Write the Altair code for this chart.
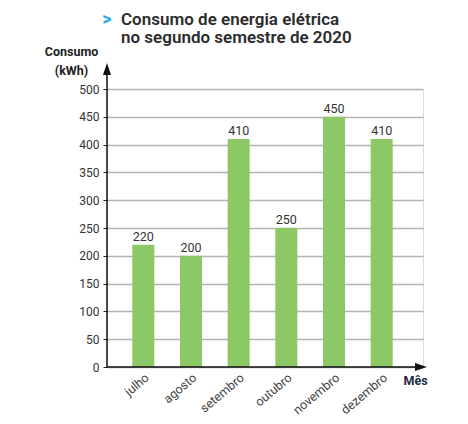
import altair as alt
import pandas as pd

meses = ["julho", "agosto", "setembro", "outubro", "novembro", "dezembro"]
consumo = [220, 200, 410, 250, 450, 410]
y_ticks = [0, 50, 100, 150, 200, 250, 300, 350, 400, 450, 500]
titulo = ["Consumo de energia elétrica", "no segundo semestre de 2020"]

df = pd.DataFrame({"mes": meses, "consumo": consumo})

W, H = 316, 278
FONT = "Roboto"

x_enc = alt.X(
    "mes:N",
    sort=meses,
    scale=alt.Scale(paddingInner=0.538, paddingOuter=0.583, align=0.455),
    axis=alt.Axis(
        title="Mês",
        titleAngle=0,
        titleX=308,
        titleY=17,
        titleAlign="center",
        titleBaseline="alphabetic",
        titleFont=FONT,
        titleFontSize=12.5,
        titleFontWeight="bold",
        titleColor="#1f2a44",
        labelAngle=-40,
        labelAlign="right",
        labelBaseline="top",
        labelPadding=4,
        labelFont=FONT,
        labelFontSize=12.5,
        labelColor="#444444",
        ticks=False,
        domain=False,
        grid=False,
    ),
)

y_enc = alt.Y(
    "consumo:Q",
    scale=alt.Scale(domain=[0, 500], nice=False),
    axis=alt.Axis(
        values=y_ticks,
        labelOverlap=False,
        title=["Consumo", "(kWh)"],
        titleAngle=0,
        titleX=-36,
        titleY=-34,
        titleAlign="center",
        titleBaseline="alphabetic",
        titleLineHeight=19,
        titleFont=FONT,
        titleFontSize=12.5,
        titleFontWeight="bold",
        titleColor="#222222",
        labelFont=FONT,
        labelFontSize=12,
        labelColor="#333333",
        labelPadding=4,
        tickSize=4,
        tickColor="#222222",
        tickWidth=1,
        domain=False,
        grid=True,
        gridColor="#b3b3b3",
        gridWidth=1.3,
    ),
)

bars = alt.Chart(df).mark_bar(color="#8cc866").encode(x=x_enc, y=y_enc)

labels = alt.Chart(df).mark_text(
    baseline="alphabetic", dy=-4, font=FONT, fontSize=12.5, color="#333333"
).encode(x=x_enc, y=y_enc, text="consumo:Q")

one = alt.Data(values=[{"k": 1}])

y_axis_line = alt.Chart(one).mark_rule(color="#111111", strokeWidth=1.5).encode(
    x=alt.value(0), y=alt.value(-18), y2=alt.value(H)
)
x_axis_line = alt.Chart(one).mark_rule(color="#111111", strokeWidth=1.5).encode(
    x=alt.value(0), x2=alt.value(312), y=alt.value(H)
)
y_arrow = alt.Chart(one).mark_point(
    shape="M0,-1L0.667,1L-0.667,1Z", size=144, filled=True, color="#111111", opacity=1
).encode(x=alt.value(0), y=alt.value(-20))
x_arrow = alt.Chart(one).mark_point(
    shape="M1,0L-1,0.667L-1,-0.667Z", size=144, filled=True, color="#111111", opacity=1
).encode(x=alt.value(314), y=alt.value(H))

chevron = alt.Chart(one).mark_text(
    text=">", font=FONT, fontSize=18, fontWeight="bold", color="#29abe2",
    align="center", baseline="alphabetic"
).encode(x=alt.value(0), y=alt.value(-64))

title_l1 = alt.Chart(alt.Data(values=[{"t": titulo[0]}])).mark_text(
    font=FONT, fontSize=17, fontWeight=600, color="#2b2b2b",
    align="left", baseline="alphabetic"
).encode(x=alt.value(14), y=alt.value(-64), text="t:N")
title_l2 = alt.Chart(alt.Data(values=[{"t": titulo[1]}])).mark_text(
    font=FONT, fontSize=17, fontWeight=600, color="#2b2b2b",
    align="left", baseline="alphabetic"
).encode(x=alt.value(14), y=alt.value(-46), text="t:N")

chart = alt.layer(
    bars, labels, y_axis_line, x_axis_line, y_arrow, x_arrow, chevron, title_l1, title_l2
).properties(
    width=W,
    height=H,
    padding={"left": 99, "top": 81, "right": 37, "bottom": 49},
    autosize=alt.AutoSizeParams(type="none"),
).configure_view(stroke=None).configure(background="white")

chart.save("out.html", embed_options={"renderer": "svg", "actions": False})
